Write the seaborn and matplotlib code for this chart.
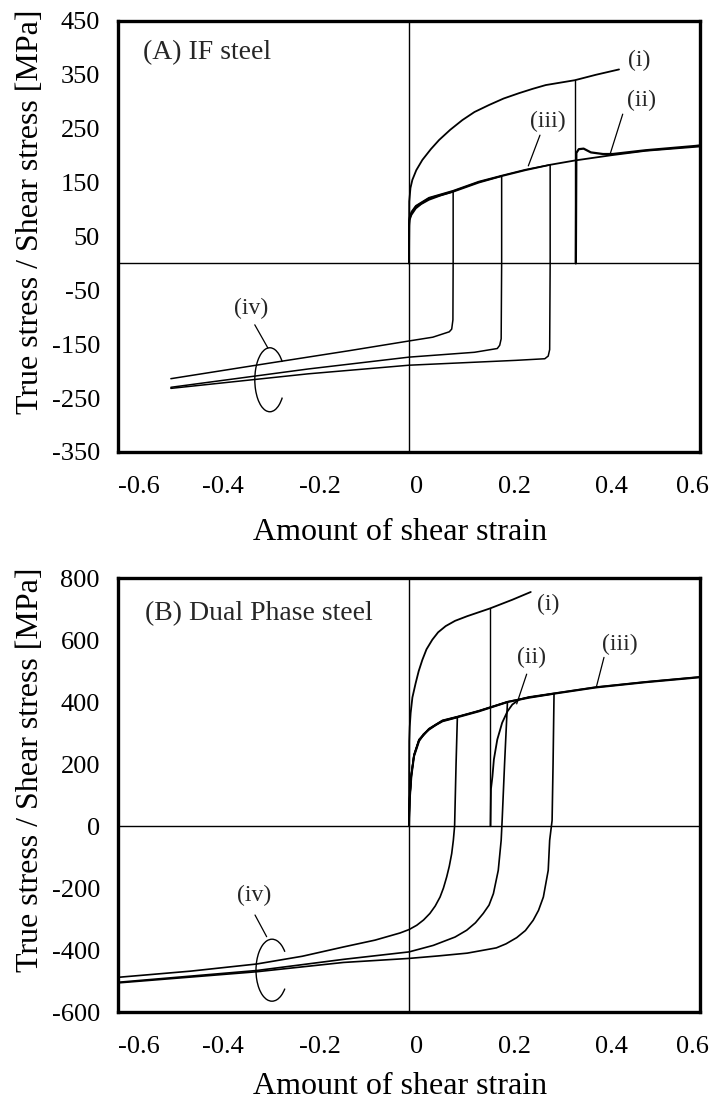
import matplotlib
matplotlib.use("Agg")
import numpy as np
import pandas as pd
import matplotlib.pyplot as plt
import seaborn as sns
from matplotlib.patches import Arc
from matplotlib.transforms import ScaledTranslation

# ---------------- data: panel A (IF steel) ----------------
A_i_x = [0, 0.0005, 0.003, 0.0069, 0.015, 0.0275, 0.045, 0.062, 0.085, 0.11, 0.135, 0.165, 0.195, 0.227, 0.255, 0.282, 0.342, 0.385, 0.433]
A_i_y = [0, 115, 140, 155, 173, 192, 212, 229, 248, 266, 281, 294, 306, 316, 324, 331, 340, 350, 360]
A_i_unload_x = [0.342, 0.342]
A_i_unload_y = [340, 0]
A_ii_x = [0.344, 0.345, 0.35, 0.36, 0.375, 0.40, 0.42, 0.488, 0.591, 0.6]
A_ii_y = [0, 205, 212, 213, 206, 203, 203, 210, 218, 219]
A_iii_x = [0, 0.0005, 0.001, 0.005, 0.014, 0.025, 0.041, 0.065, 0.091, 0.144, 0.191, 0.24, 0.291, 0.342, 0.419, 0.488, 0.6]
A_iii_y = [0, 70, 80, 90, 102, 110, 118, 126, 133, 150, 162, 173, 183, 191, 201, 209, 217]
A_iv1_x = [0, 0.0005, 0.001, 0.005, 0.014, 0.041, 0.091, 0.091, 0.0905, 0.088, 0.083, 0.049, 0, -0.123, -0.294, -0.491]
A_iv1_y = [0, 72, 82, 92, 104, 120, 133, 0, -105, -122, -127, -137, -144, -162, -186, -214]
A_iv2_x = [0, 0.0005, 0.001, 0.005, 0.014, 0.041, 0.091, 0.144, 0.191, 0.191, 0.19, 0.187, 0.182, 0.135, 0, -0.208, -0.491]
A_iv2_y = [0, 74, 84, 94, 106, 121, 134, 151, 162, 0, -140, -152, -158, -165, -174, -196, -230]
A_iv3_x = [0, 0.0005, 0.001, 0.005, 0.014, 0.041, 0.091, 0.144, 0.191, 0.24, 0.291, 0.291, 0.29, 0.287, 0.28, 0.22, 0, -0.208, -0.491]
A_iv3_y = [0, 76, 86, 96, 107, 122, 135, 152, 163, 174, 183, 0, -160, -172, -177, -180, -189, -205, -232]

# ---------------- data: panel B (Dual Phase steel) ----------------
B_i_x = [0, 0.0005, 0.0015, 0.0034, 0.007, 0.0137, 0.02, 0.0275, 0.036, 0.048, 0.06, 0.0756, 0.095, 0.12, 0.167, 0.213, 0.251]
B_i_y = [0, 274, 320, 365, 415, 461, 500, 536, 570, 601, 625, 645, 662, 677, 702, 730, 755]
B_i_unload_x = [0.167, 0.167]
B_i_unload_y = [702, 0]
B_ii_x = [0.168, 0.169, 0.172, 0.175, 0.182, 0.192, 0.203, 0.213, 0.227, 0.247, 0.299, 0.385, 0.488, 0.6]
B_ii_y = [0, 120, 160, 215, 279, 333, 370, 392, 408, 416, 428, 448, 465, 481]
B_iii_x = [0, 0.0005, 0.0014, 0.0048, 0.0103, 0.0206, 0.03, 0.041, 0.055, 0.069, 0.0997, 0.144, 0.203, 0.247, 0.299, 0.385, 0.488, 0.6]
B_iii_y = [0, 40, 86, 161, 225, 274, 296, 311, 326, 338, 351, 370, 400, 414, 427, 447, 464, 480]
B_iv1_x = [0, 0.0005, 0.0014, 0.0048, 0.0103, 0.0206, 0.041, 0.069, 0.0997, 0.097, 0.094, 0.0914, 0.088,
           0.083, 0.0777, 0.071, 0.064, 0.054, 0.043, 0.03, 0.016, 0, -0.0186, -0.07, -0.135, -0.22, -0.314, -0.45, -0.6]
B_iv1_y = [0, 42, 88, 163, 227, 276, 312, 339, 351, 200, 0, -46, -89,
           -130, -164, -200, -229, -258, -282, -303, -320, -334, -345, -368, -390, -420, -445, -468, -488]
B_iv2_x = [0, 0.0005, 0.0014, 0.0048, 0.0103, 0.0206, 0.041, 0.069, 0.0997, 0.144, 0.203, 0.197, 0.192, 0.19,
           0.184, 0.174, 0.165, 0.153, 0.137, 0.119, 0.095, 0.05, 0, -0.135, -0.314, -0.6]
B_iv2_y = [0, 44, 90, 165, 229, 278, 313, 340, 352, 371, 400, 200, 18, -46,
           -143, -218, -255, -282, -312, -336, -358, -385, -406, -430, -466, -504]
B_iv3_x = [0, 0.0005, 0.0014, 0.0048, 0.0103, 0.0206, 0.041, 0.069, 0.0997, 0.144, 0.203, 0.247, 0.299, 0.297,
           0.295, 0.29, 0.287, 0.277, 0.267, 0.256, 0.24, 0.222, 0.2, 0.18, 0.12, 0.06, 0, -0.135, -0.314, -0.6]
B_iv3_y = [0, 46, 92, 167, 230, 279, 314, 341, 353, 372, 401, 415, 427, 200,
           18, -46, -143, -229, -272, -304, -337, -360, -380, -393, -410, -419, -427, -440, -470, -506]

x_ticks = [-0.6, -0.4, -0.2, 0, 0.2, 0.4, 0.6]
x_tick_labels = ["-0.6", "-0.4", "-0.2", "0", "0.2", "0.4", "0.6"]
A_y_ticks = [450, 350, 250, 150, 50, -50, -150, -250, -350]
B_y_ticks = [800, 600, 400, 200, 0, -200, -400, -600]

# ---------------- styling ----------------
sns.set_theme(style="white")
plt.rcParams['font.family'] = ['Liberation Serif', 'DejaVu Serif']
plt.rcParams['axes.unicode_minus'] = False

fig = plt.figure(figsize=(7.13, 11.08), dpi=100)
axA = fig.add_axes([0.1655, 0.5921, 0.8163, 0.389])
axB = fig.add_axes([0.1655, 0.0866, 0.8163, 0.3917])


def draw(ax, xs, ys, lw=1.3):
    df = pd.DataFrame({"strain": xs, "stress": ys})
    sns.lineplot(data=df, x="strain", y="stress", ax=ax, sort=False, estimator=None,
                 color="black", linewidth=lw, legend=False)


def style(ax, ylim, yticks, ylabel_y, xlabel_y):
    ax.set_xlim(-0.6, 0.6)
    ax.set_ylim(*ylim)
    ax.axhline(0, color="black", lw=1.0, zorder=1)
    ax.axvline(0, color="black", lw=1.0, zorder=1)
    ax.set_xticks(x_ticks)
    ax.set_xticklabels(x_tick_labels)
    ax.set_yticks(yticks)
    ax.set_yticklabels([str(v) for v in yticks])
    ax.tick_params(axis="x", direction="in", length=5, width=1, pad=17, labelsize=19, colors="black")
    ax.tick_params(axis="y", direction="in", length=7, width=1, pad=13, labelsize=19, colors="black")
    for s in ax.spines.values():
        s.set_color("black")
        s.set_linewidth(2.4)
    labels = ax.get_xticklabels()
    for i, lab in enumerate(labels):
        if i == 0:
            lab.set_ha("left")
        elif i == len(labels) - 1:
            lab.set_transform(lab.get_transform() + ScaledTranslation(-8 / 100, 0, fig.dpi_scale_trans))
        else:
            lab.set_transform(lab.get_transform() + ScaledTranslation(8 / 100, 0, fig.dpi_scale_trans))
    ax.set_xlabel("Amount of shear strain", fontsize=23, color="black")
    ax.set_ylabel("True stress / Shear stress [MPa]", fontsize=23, color="black")
    ax.xaxis.set_label_coords(0.4845, xlabel_y)
    ax.yaxis.set_label_coords(-0.125, ylabel_y)
    ax.grid(False)


def bracket(ax, cx, cy, w_in, h_in):
    # open ellipse drawn in physical units, centred on a data point
    tr = fig.dpi_scale_trans + ScaledTranslation(cx, cy, ax.transData)
    ax.add_patch(Arc((0, 0), w_in, h_in, theta1=55, theta2=305, color="black", lw=1.0,
                     transform=tr))


# ---- panel A ----
draw(axA, A_i_x, A_i_y)
draw(axA, A_i_unload_x, A_i_unload_y, lw=1.0)
draw(axA, A_ii_x, A_ii_y, lw=1.6)
draw(axA, A_iii_x, A_iii_y)
draw(axA, A_iv1_x, A_iv1_y, lw=1.1)
draw(axA, A_iv2_x, A_iv2_y, lw=1.1)
draw(axA, A_iv3_x, A_iv3_y, lw=1.1)
style(axA, (-350, 450), A_y_ticks, 0.557, -0.154)

axA.text(-0.548, 392, "(A) IF steel", fontsize=20, ha="left", va="center")
axA.text(0.474, 377, "(i)", fontsize=17, ha="center", va="center")
axA.text(0.48, 303, "(ii)", fontsize=17, ha="center", va="center")
axA.plot([0.4406, 0.414], [277, 201], color="black", lw=0.9)
axA.text(0.287, 263, "(iii)", fontsize=17, ha="center", va="center")
axA.plot([0.27, 0.246], [238, 181], color="black", lw=0.9)
axA.text(-0.326, -83, "(iv)", fontsize=17, ha="center", va="center")
axA.plot([-0.318, -0.291], [-114, -157], color="black", lw=0.9)
bracket(axA, -0.287, -216, 0.30, 0.64)

# ---- panel B ----
draw(axB, B_i_x, B_i_y)
draw(axB, B_i_unload_x, B_i_unload_y, lw=1.0)
draw(axB, B_ii_x, B_ii_y, lw=1.3)
draw(axB, B_iii_x, B_iii_y, lw=1.5)
draw(axB, B_iv1_x, B_iv1_y, lw=1.2)
draw(axB, B_iv2_x, B_iv2_y, lw=1.2)
draw(axB, B_iv3_x, B_iv3_y, lw=1.2)
style(axB, (-600, 800), B_y_ticks, 0.559, -0.139)

axB.text(-0.544, 684, "(B) Dual Phase steel", fontsize=20, ha="left", va="center")
axB.text(0.287, 715, "(i)", fontsize=17, ha="center", va="center")
axB.text(0.253, 544, "(ii)", fontsize=17, ha="center", va="center")
axB.plot([0.2426, 0.222], [490, 394], color="black", lw=0.9)
axB.text(0.435, 587, "(iii)", fontsize=17, ha="center", va="center")
axB.plot([0.402, 0.386], [544, 447], color="black", lw=0.9)
axB.text(-0.32, -223, "(iv)", fontsize=17, ha="center", va="center")
axB.plot([-0.3175, -0.2935], [-287, -357], color="black", lw=0.9)
bracket(axB, -0.2825, -465, 0.32, 0.62)

fig.savefig("out.png", dpi=100, facecolor="white")
